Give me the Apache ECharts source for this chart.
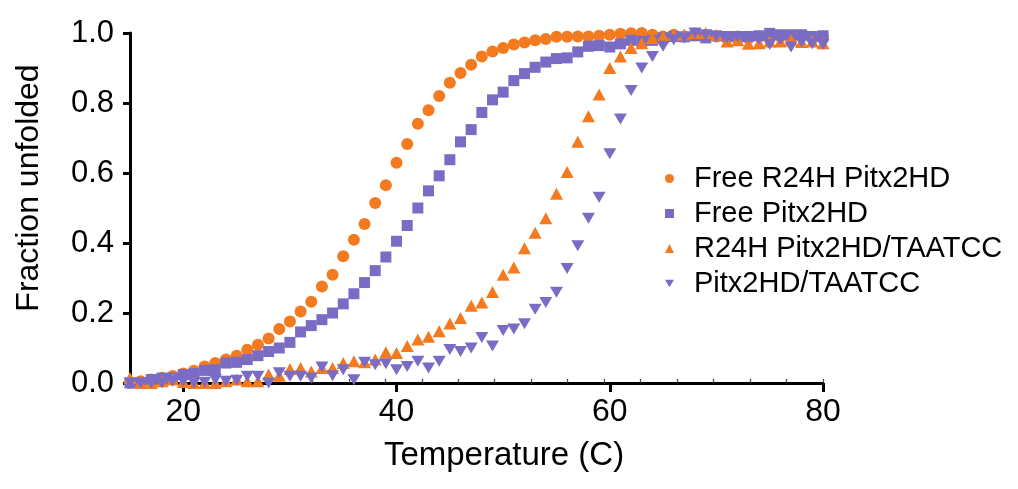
<!DOCTYPE html>
<html>
<head>
<meta charset="utf-8">
<script src="https://cdn.jsdelivr.net/npm/echarts@6/dist/echarts.min.js"></script>
<style>
  html, body { margin: 0; padding: 0; background: #fff; }
  #chart { width: 1018px; height: 489px; }
</style>
</head>
<body>
<div id="chart"></div>
<script>
// Thermal melting curves, 15–80 °C in 1 °C steps
const temperature = [15,16,17,18,19,20,21,22,23,24,25,26,27,28,29,30,31,32,33,34,35,36,37,38,39,40,
  41,42,43,44,45,46,47,48,49,50,51,52,53,54,55,56,57,58,59,60,61,62,63,64,65,66,67,68,69,70,
  71,72,73,74,75,76,77,78,79,80];

const freeR24H = [0.000,0.005,0.010,0.015,0.020,0.027,0.035,0.047,0.057,0.067,0.078,0.095,0.109,0.127,0.154,0.176,
  0.204,0.232,0.276,0.309,0.362,0.409,0.454,0.514,0.565,0.629,0.683,0.741,0.779,0.820,0.858,0.886,0.909,0.933,
  0.947,0.957,0.967,0.973,0.979,0.983,0.989,0.989,0.990,0.990,0.992,0.995,0.998,0.999,1.000,0.995,0.990,0.995,
  0.990,0.995,0.990,0.990,0.985,0.990,0.985,0.990,0.985,0.990,0.985,0.990,0.985,0.990];

const freePitx2 = [0.000,0.000,0.010,0.014,0.014,0.024,0.027,0.036,0.038,0.057,0.059,0.067,0.078,0.090,0.100,0.116,
  0.146,0.164,0.181,0.200,0.226,0.255,0.287,0.321,0.360,0.405,0.450,0.500,0.549,0.592,0.638,0.689,0.724,0.773,
  0.809,0.831,0.864,0.884,0.902,0.917,0.927,0.929,0.946,0.962,0.964,0.960,0.969,0.979,0.976,0.979,0.986,0.990,
  0.989,0.992,0.986,0.992,0.990,0.989,0.990,0.992,0.999,0.995,0.995,0.995,0.990,0.992];

const r24hTAATCC = [0.014,0.000,0.000,0.005,0.010,0.003,0.000,0.000,0.000,0.005,0.010,0.005,0.005,0.024,0.021,0.040,
  0.043,0.033,0.043,0.043,0.057,0.062,0.059,0.067,0.088,0.086,0.106,0.124,0.132,0.148,0.170,0.186,0.221,0.230,
  0.260,0.309,0.330,0.385,0.429,0.471,0.541,0.603,0.689,0.762,0.824,0.900,0.933,0.957,0.971,0.986,0.990,0.995,
  0.996,1.000,1.000,0.995,0.976,0.979,0.969,0.971,0.976,0.976,0.979,0.974,0.976,0.971];

const pitx2TAATCC = [0.000,0.000,0.000,0.000,0.005,0.005,0.000,0.002,0.009,0.005,0.008,0.019,0.019,0.000,0.029,0.019,
  0.019,0.014,0.046,0.021,0.038,0.009,0.059,0.052,0.055,0.038,0.047,0.062,0.043,0.062,0.096,0.090,0.100,0.130,
  0.106,0.150,0.154,0.169,0.211,0.230,0.259,0.327,0.392,0.471,0.531,0.655,0.754,0.836,0.900,0.933,0.962,0.981,
  0.986,1.000,0.995,0.990,0.986,0.989,0.986,0.983,0.967,0.981,0.960,0.974,0.969,0.967];

const seriesNames = ['Free R24H Pitx2HD', 'Free Pitx2HD', 'R24H Pitx2HD/TAATCC', 'Pitx2HD/TAATCC'];
const xTicks = [20, 40, 60, 80];

const ORANGE = '#F47A1F';
const PURPLE = '#7A6CC5';
const FONT = '"Liberation Sans", Arial, Helvetica, sans-serif';
const DOWN_TRIANGLE = 'path://M0,0L20,0L10,17Z';

// small unlabelled ticks spread evenly along the bottom axis
const minorTicks = [];
for (let k = 0; k <= 19; k++) minorTicks.push(15 + k * 65 / 19);

const pairs = vals => temperature.map((t, i) => [t, vals[i]]);

const chart = echarts.init(document.getElementById('chart'), null, { renderer: 'canvas' });

const axisLine = { show: true, lineStyle: { color: '#000', width: 3 } };

chart.setOption({
  animation: false,
  backgroundColor: '#fff',
  grid: { left: 130, right: 195, top: 33, bottom: 106, containLabel: false },
  xAxis: [
    {
      type: 'value', min: 15, max: 80,
      axisLine: axisLine,
      axisTick: { show: true, length: 9, lineStyle: { color: '#000', width: 3 }, customValues: xTicks },
      axisLabel: { show: true, customValues: xTicks, fontSize: 32, fontFamily: FONT, color: '#000', margin: 13 },
      splitLine: { show: false }
    },
    {
      type: 'value', min: 15, max: 80, position: 'bottom',
      axisLine: { show: false },
      axisTick: { show: true, inside: true, length: 4, lineStyle: { color: '#444', width: 1.2 }, customValues: minorTicks },
      axisLabel: { show: false },
      splitLine: { show: false }
    }
  ],
  yAxis: {
    type: 'value', min: 0, max: 1, interval: 0.2,
    axisLine: axisLine,
    axisTick: { show: true, length: 7, lineStyle: { color: '#000', width: 3 } },
    axisLabel: { fontSize: 31, fontFamily: FONT, color: '#000', margin: 16, formatter: v => v.toFixed(1) },
    splitLine: { show: false }
  },
  legend: {
    orient: 'vertical',
    left: 660, top: 159,
    itemWidth: 9, itemHeight: 9, itemGap: 6,
    textStyle: { fontSize: 29, fontFamily: FONT, color: '#000', padding: [0, 0, 0, 15] },
    data: [
      { name: seriesNames[0], icon: 'circle' },
      { name: seriesNames[1], icon: 'rect' },
      { name: seriesNames[2], icon: 'triangle' },
      { name: seriesNames[3], icon: DOWN_TRIANGLE }
    ]
  },
  graphic: [
    {
      type: 'text', x: 29, y: 188, rotation: Math.PI / 2,
      style: { text: 'Fraction unfolded', fontSize: 32, fontFamily: FONT, fill: '#000', align: 'center', verticalAlign: 'middle' }
    },
    {
      type: 'text', x: 504, y: 456,
      style: { text: 'Temperature (C)', fontSize: 33, fontFamily: FONT, fill: '#000', align: 'center', verticalAlign: 'middle' }
    }
  ],
  series: [
    {
      name: seriesNames[0], type: 'scatter', clip: false,
      symbol: 'circle', symbolSize: 12,
      itemStyle: { color: ORANGE, opacity: 1 },
      data: pairs(freeR24H)
    },
    {
      name: seriesNames[1], type: 'scatter', clip: false,
      symbol: 'rect', symbolSize: 11,
      itemStyle: { color: PURPLE, opacity: 1 },
      data: pairs(freePitx2)
    },
    {
      name: seriesNames[2], type: 'scatter', clip: false,
      symbol: 'triangle', symbolSize: [13, 12],
      itemStyle: { color: ORANGE, opacity: 1 },
      data: pairs(r24hTAATCC)
    },
    {
      name: seriesNames[3], type: 'scatter', clip: false,
      symbol: DOWN_TRIANGLE, symbolSize: [13, 11],
      itemStyle: { color: PURPLE, opacity: 1 },
      data: pairs(pitx2TAATCC)
    }
  ]
});
</script>
</body>
</html>
